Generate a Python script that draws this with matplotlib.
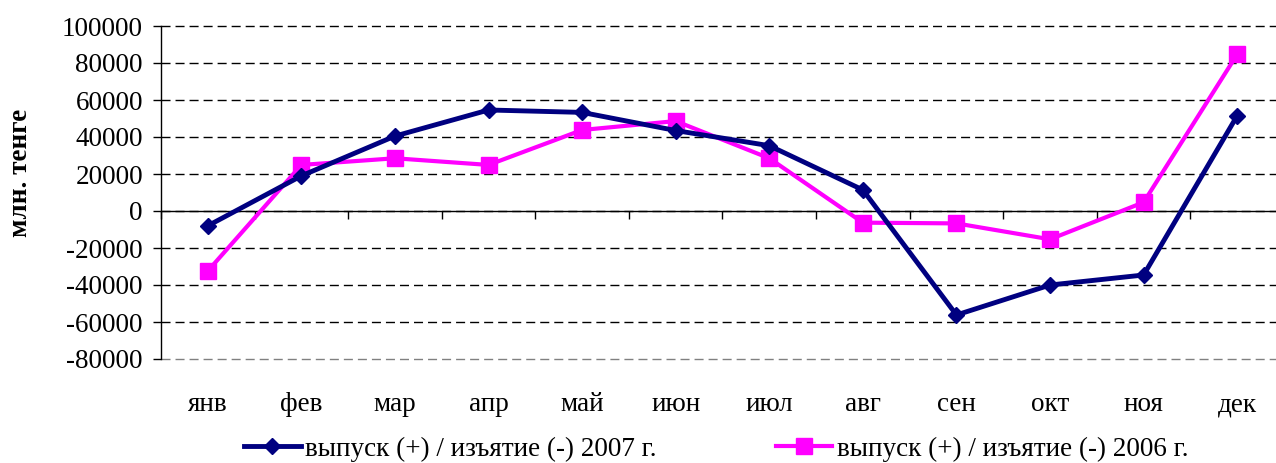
import numpy as np
import matplotlib
matplotlib.use('Agg')
import matplotlib.pyplot as plt

plt.rcParams['font.family'] = ['Liberation Serif', 'DejaVu Serif']
plt.rcParams['axes.unicode_minus'] = False

months = ['янв', 'фев', 'мар', 'апр', 'май', 'июн', 'июл', 'авг', 'сен', 'окт', 'ноя', 'дек']
vals_2007 = [-8000, 19000, 40500, 54600, 53300, 43500, 35300, 11400, -56200, -40000, -34600, 51500]
vals_2006 = [-32400, 24900, 28500, 24900, 43800, 48600, 28500, -6300, -6700, -15300, 4700, 84700]
label_2007 = 'выпуск (+) / изъятие (-) 2007 г.'
label_2006 = 'выпуск (+) / изъятие (-) 2006 г.'

fs = 19.5

fig = plt.figure(figsize=(12.76, 4.63), dpi=100)
ax = fig.add_axes([161/1276, 1-359/463, 1123/1276, 333/463])

x = np.arange(len(months))
ax.plot(x, vals_2007, color='#000080', lw=3.5, marker='D', ms=8.5, label=label_2007, zorder=4)
ax.plot(x, vals_2006, color='#FF00FF', lw=3, marker='s', ms=11.5, label=label_2006, zorder=3)

ax.set_xlim(-0.5, 11.5)
ax.set_ylim(-80000, 100000)
ax.set_yticks(np.arange(-80000, 100001, 20000))
ax.grid(axis='y', color='black', ls=(0, (6.5, 3.6)), lw=1)
for gl in ax.yaxis.get_gridlines():
    gl.set_clip_on(False)
ax.yaxis.get_gridlines()[0].set_color('gray')
ax.tick_params(axis='y', direction='out', length=6, width=1, pad=7, labelsize=fs)

# zero line carries the category boundary ticks
ax.spines['top'].set_visible(False)
ax.spines['right'].set_visible(False)
ax.spines['left'].set_linewidth(1)
ax.spines['left'].set_zorder(5)
ax.spines['bottom'].set_position(('data', 0))
ax.spines['bottom'].set_linewidth(1)
ax.set_xticks(np.arange(-0.5, 12, 1))
ax.tick_params(axis='x', direction='out', length=6, width=1, labelbottom=False)

# month names below the plot area
sec = ax.secondary_xaxis('bottom')
sec.set_xticks(x)
sec.set_xticklabels(months)
sec.tick_params(length=0, pad=24, labelsize=fs)
sec.spines['bottom'].set_visible(False)

ax.set_ylabel('млн. тенге', fontsize=fs, fontweight='bold', va='center')
ax.yaxis.set_label_coords((21-161)/1123, (359-173)/333)

ax.legend(loc='center', bbox_to_anchor=(716/1276, 1-449/463), bbox_transform=fig.transFigure,
          ncol=2, frameon=False, fontsize=fs, handlelength=2.1, handletextpad=0.15,
          columnspacing=4.4, borderaxespad=0)

fig.savefig('out.png', dpi=100)
